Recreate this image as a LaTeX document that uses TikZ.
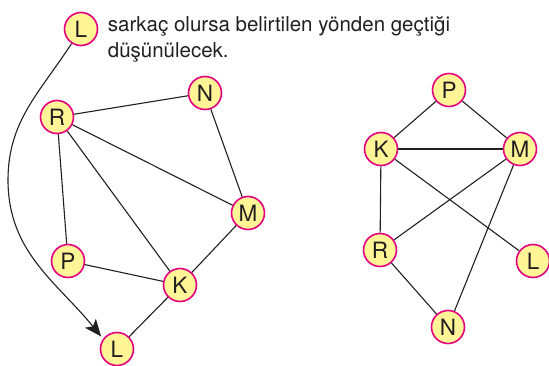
\documentclass[tikz,border=0pt]{standalone}
\usepackage{fontspec}
\setmainfont{TeX Gyre Heros}
\usepackage{xcolor}
\usetikzlibrary{arrows.meta}

\definecolor{vfill}{RGB}{255,245,150}
\definecolor{vedge}{RGB}{228,0,127}
\definecolor{ink}{RGB}{35,31,32}

\begin{document}
\begin{tikzpicture}[x=1pt, y=1pt, font=\fontsize{20.5}{24}\selectfont, line width=1.1pt,
  vtx/.style={draw=vedge, fill=vfill, circle, line width=1.6pt, minimum size=33pt, inner sep=0pt, text=ink, font=\fontsize{22.5}{24}\selectfont},
  link/.style={draw=ink, line width=1.1pt},
  swing/.style={link, -{Stealth[length=17pt, width=14pt, inset=4pt]}, shorten >=3pt}]
  \useasboundingbox (0,0) rectangle (549,365);

  % left graph
  \node[vtx] (L1) at (81,336) {L};
  \node[vtx] (R1) at (57,248) {R};
  \node[vtx] (N1) at (205,272) {N};
  \node[vtx] (M1) at (248,152) {M};
  \node[vtx] (P1) at (68,104) {P};
  \node[vtx] (K1) at (180,80) {K};
  \node[vtx] (L2) at (117,16) {L};

  \node[anchor=base west, text=ink] (txt1) at (104,333) {sarkaç olursa belirtilen yönden geçtiği};
  \node[anchor=base west, text=ink] (txt2) at (104,307) {düşünülecek.};

  \draw[link] (R1) -- (N1);
  \draw[link] (N1) -- (M1);
  \draw[link] (R1) -- (M1);
  \draw[link] (R1) -- (P1);
  \draw[link] (R1) -- (K1);
  \draw[link] (P1) -- (K1);
  \draw[link] (M1) -- (K1);
  \draw[link] (K1) -- (L2);

  \coordinate (turn) at (8,185);
  \draw[swing] (L1.237) to[out=237, in=90] (turn) to[out=-90, in=129] (L2.144);

  % right graph
  \node[vtx] (P2) at (449,275) {P};
  \node[vtx] (K2) at (381,216) {K};
  \node[vtx] (M2) at (520,216) {M};
  \node[vtx] (R2) at (380,115) {R};
  \node[vtx] (L3) at (533,104) {L};
  \node[vtx] (N2) at (448,38) {N};

  \draw[link] (P2) -- (K2);
  \draw[link] (P2) -- (M2);
  \draw[link] (K2) -- (M2);
  \draw[link] (K2) -- (R2);
  \draw[link] (K2) -- (L3);
  \draw[link] (M2) -- (R2);
  \draw[link] (M2) -- (N2);
  \draw[link] (R2) -- (N2);
\end{tikzpicture}
\end{document}
